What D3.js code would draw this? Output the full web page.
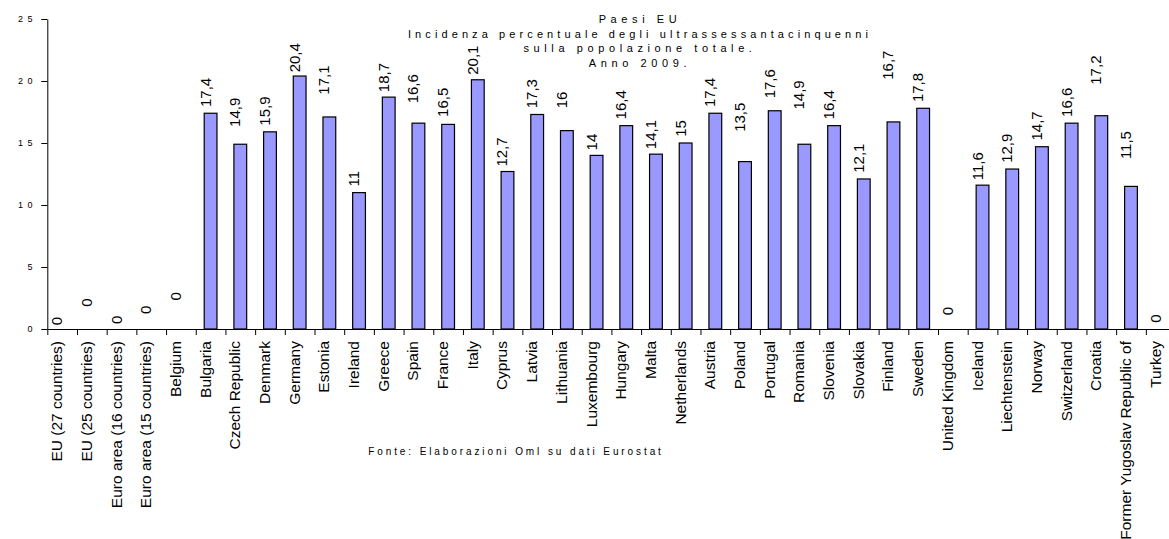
<!DOCTYPE html>
<html><head><meta charset="utf-8">
<script src="https://cdn.jsdelivr.net/npm/d3@7"></script>
<style>
html,body{margin:0;padding:0;background:#fff;overflow:hidden}
text{font-family:"Liberation Sans",Arial,sans-serif;fill:#000}
</style></head>
<body>
<svg id="chart" width="1169" height="539"></svg>
<script>
const categories = ["EU (27 countries)","EU (25 countries)","Euro area (16 countries)","Euro area (15 countries)","Belgium","Bulgaria","Czech Republic","Denmark","Germany","Estonia","Ireland","Greece","Spain","France","Italy","Cyprus","Latvia","Lithuania","Luxembourg","Hungary","Malta","Netherlands","Austria","Poland","Portugal","Romania","Slovenia","Slovakia","Finland","Sweden","United Kingdom","Iceland","Liechtenstein","Norway","Switzerland","Croatia","Former Yugoslav Republic of","Turkey"];
const values = [0,0,0,0,0,17.4,14.9,15.9,20.4,17.1,11,18.7,16.6,16.5,20.1,12.7,17.3,16,14,16.4,14.1,15,17.4,13.5,17.6,14.9,16.4,12.1,16.7,17.8,0,11.6,12.9,14.7,16.6,17.2,11.5,0];
// value-axis level at which each data label starts
const labelAt = [0.3,1.8,0.4,1.2,2.3,17.9,16.3,16.4,20.7,18.9,11.5,19.1,18.2,17.1,20.5,13.1,17.8,17.8,14.4,16.9,14.5,15.5,17.9,15.9,18.6,17.7,16.9,12.6,20.1,18.3,1.1,12.0,13.4,15.2,17.1,19.7,13.7,0.5];
const yTicks = [0,5,10,15,20,25];
const titleLines = ["Paesi EU","Incidenza percentuale degli ultrassessantacinquenni","sulla popolazione totale.","Anno 2009."];
const sourceText = "Fonte: Elaborazioni Oml su dati Eurostat";

const svg = d3.select("#chart");
const x0 = 47.3, step = 29.69;
const x = d3.scaleBand().domain(categories).range([x0, x0 + step*categories.length]).padding(0);
const xi = d3.scaleLinear().domain([0, categories.length]).range(x.range());
const y = d3.scaleLinear().domain([0,25]).range([329,19]);
const bw = x.bandwidth();
const fmt = v => String(v).replace(".", ",");

// bars
svg.append("g").selectAll("rect").data(categories.map((c,i)=>({c,v:values[i]})).filter(d=>d.v>0))
  .join("rect")
  .attr("x", d => x(d.c) + bw*0.285)
  .attr("width", bw*0.43)
  .attr("y", d => y(d.v))
  .attr("height", d => y(0) - y(d.v))
  .attr("fill", "#9999ff").attr("stroke", "#000").attr("stroke-width", 1.2);

// x axis
const gx = svg.append("g").attr("transform", `translate(0,${y(0)})`)
  .call(d3.axisBottom(xi).tickValues(d3.range(0, categories.length+1)).tickFormat("").tickSize(6).tickSizeOuter(0));
gx.selectAll("path,line").attr("stroke","#000");

// y axis
const gy = svg.append("g").attr("transform", `translate(${x0},0)`)
  .call(d3.axisLeft(y).tickValues(yTicks).tickSize(6).tickSizeOuter(0).tickPadding(4));
gy.selectAll("path,line").attr("stroke","#000");
const ls = 4.5;
gy.selectAll("text").style("font-size","9px").style("letter-spacing", ls+"px")
  .style("font-family","'Liberation Sans',Arial,sans-serif").attr("fill","#000")
  .attr("text-anchor","start")
  .each(function(){
    const len = this.getComputedTextLength();
    d3.select(this).attr("x", (32.5 - x0) - (len - ls));
  });

// category labels
svg.append("g").selectAll("text").data(categories).join("text")
  .attr("transform", d => `translate(${x(d)+bw/2},${y(0)+12}) rotate(-90)`)
  .attr("text-anchor","end").style("font-size","15.5px").text(d => d);

// data labels
svg.append("g").selectAll("text").data(categories.map((c,i)=>({c,v:values[i],a:labelAt[i]}))).join("text")
  .attr("transform", d => `translate(${x(d.c)+bw/2},${y(d.a)}) rotate(-90)`)
  .attr("text-anchor","start").style("font-size","15px").text(d => fmt(d.v));

// title
svg.append("g").selectAll("text").data(titleLines).join("text")
  .attr("x", 640).attr("y", (d,i) => 23 + i*14.6)
  .attr("text-anchor","middle").style("font-size","11px").style("letter-spacing", (d,i)=> i===1 ? "4.1px" : "4.6px")
  .text(d => d);

// source
svg.append("text").attr("x", 516).attr("y", 455).attr("text-anchor","middle")
  .style("font-size","10px").style("letter-spacing","2.9px").text(sourceText);
</script>
</body></html>
